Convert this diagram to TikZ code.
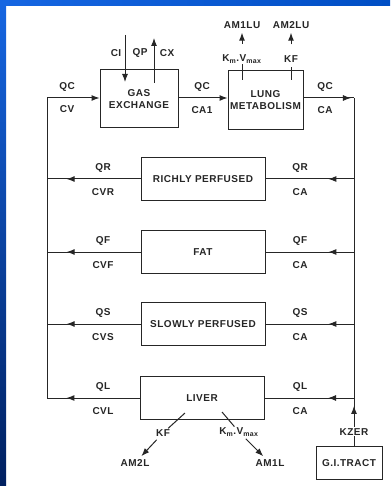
\documentclass[tikz,border=0pt]{standalone}
\usepackage{fontspec}
\setmainfont{Liberation Sans}[LetterSpace=5]
\usepackage{tikz}
\usetikzlibrary{arrows.meta,decorations.markings,calc}
\definecolor{ink}{RGB}{38,38,38}
\definecolor{frameblue}{RGB}{22,102,226}
\definecolor{framemid}{RGB}{0,78,196}
\definecolor{framenavy}{RGB}{0,32,96}

\begin{document}
\begin{tikzpicture}[x=1pt,y=-1pt,
        organ/.style={draw=ink,line width=1pt,minimum width=124pt,minimum height=43pt,
                      font=\bfseries\fontsize{10}{12}\selectfont,text=ink,align=center,inner sep=1pt},
        lbl/.style={font=\bfseries\fontsize{10}{12}\selectfont,text=ink,inner sep=1pt},
        flow/.style={draw=ink,line width=1pt},
        arr/.style={flow,-{Latex[length=8pt,width=6pt]}},
        midarr/.style={flow,postaction={decorate},
                       decoration={markings,mark=at position #1 with {\arrow{Latex[length=8pt,width=6pt]}}}}]
        % frame
        \useasboundingbox (0,0) rectangle (390,486);
        \fill[white] (0,0) rectangle (390,486);
        \shade[top color=frameblue,bottom color=framenavy] (0,0) rectangle (6,486);
        \shade[left color=frameblue,right color=framemid] (0,0) rectangle (390,6);
        % compartments
        \node[organ,minimum width=78pt,minimum height=58pt] (gas) at (139,99) {GAS\\EXCHANGE};
        \node[organ,minimum width=75pt,minimum height=59pt] (lung) at (265.5,100) {LUNG\\METABOLISM};
        \node[organ] (rich)  at (203,179) {RICHLY PERFUSED};
        \node[organ] (fat)   at (203,252) {FAT};
        \node[organ] (slow)  at (203,324) {SLOWLY PERFUSED};
        \node[organ] (liver) at (202,398) {LIVER};
        \node[organ,minimum width=66pt,minimum height=33pt] (gi) at (349,463) {G.I.TRACT};
        \coordinate (vlt) at (47,98);
        \coordinate (vlb) at (47,398);
        \coordinate (vrt) at (354,98);
        \coordinate (vrb) at (354,398);
        % main loop
        \draw[arr] (vlb) -- (vlt) -- (vlt -| gas.west);
        \draw[arr] (vlt -| gas.east) -- (vlt -| lung.west);
        \draw[midarr=0.94] (vlt -| lung.east) -- (vrt);
        \draw[flow] (vrt) -- (vrb);
        \node[lbl] (qcv) at (67,87)  {QC};
        \node[lbl] (cv)  at (67,109) {CV};
        \node[lbl] (qcm) at (202,87) {QC};
        \node[lbl] (ca1) at (202,110) {CA1};
        \node[lbl] (qca) at (325,87) {QC};
        \node[lbl] (ca)  at (325,110) {CA};
        \foreach \o/\q/\cv in {rich/QR/CVR,fat/QF/CVF,slow/QS/CVS,liver/QL/CVL}{
          \draw[midarr=0.29] (\o -| vrt) -- (\o.east);
          \draw[midarr=0.79] (\o.west) -- (\o -| vlt);
          \node[lbl] (\o-ql) at ($(\o -| vlt)+(56,-11)$) {\q};
          \node[lbl] (\o-cl) at ($(\o -| vlt)+(56,13)$)  {\cv};
          \node[lbl] (\o-qr) at ($(\o -| vrt)+(-54,-11)$) {\q};
          \node[lbl] (\o-cr) at ($(\o -| vrt)+(-54,13)$)  {CA};
        }
        % gas exchange inputs
        \node[lbl] (ci) at (116,53) {CI};
        \node[lbl] (qp) at (140,53) {QP};
        \node[lbl] (cx) at (167,53) {CX};
        \coordinate (ciin)  at (125,35);
        \coordinate (ciend) at (125,82);
        \coordinate (cxst)  at (154,83);
        \coordinate (cxout) at (154,38);
        \draw[arr] (ciin) -- (ciend);
        \draw[arr] (cxst) -- (cxout);
        % lung metabolism
        \node[lbl] (kmlu)  at (242,59) {K\textsubscript{m}.V\textsubscript{max}};
        \node[lbl] (kflu)  at (291,59) {KF};
        \node[lbl] (am1lu) at (242,25) {AM1LU};
        \node[lbl] (am2lu) at (291,25) {AM2LU};
        \coordinate (lt1) at (242,80);
        \coordinate (lt2) at (291,80);
        \draw[flow] (lt1) -- (kmlu);
        \draw[flow,shorten >=3pt] (lt2) -- (kflu);
        \draw[arr,shorten <=10pt,shorten >=3pt] (kmlu) -- (am1lu);
        \draw[arr,shorten <=10pt,shorten >=3pt] (kflu) -- (am2lu);
        % liver metabolism
        \node[lbl] (kfl)  at (163,433) {KF};
        \node[lbl] (kml)  at (239,432) {K\textsubscript{m}.V\textsubscript{max}};
        \node[lbl] (am2l) at (135,463) {AM2L};
        \node[lbl] (am1l) at (270,463) {AM1L};
        \coordinate (kfst) at (185,413);
        \coordinate (kmst) at (222,412);
        \draw[flow] (kfst) -- (kfl);
        \draw[flow] (kmst) -- (kml);
        \draw[arr,shorten <=3pt,shorten >=3pt] (kfl) -- (am2l);
        \draw[arr,shorten <=2pt,shorten >=3pt] (kml) -- (am1l);
        % gut uptake
        \coordinate (gitop) at (gi.north -| vrb);
        \draw[midarr=0.835] (gitop) -- (vrb) node[lbl,pos=0.3,fill=white] (kzer) {KZER};
      \end{tikzpicture}
\end{document}
